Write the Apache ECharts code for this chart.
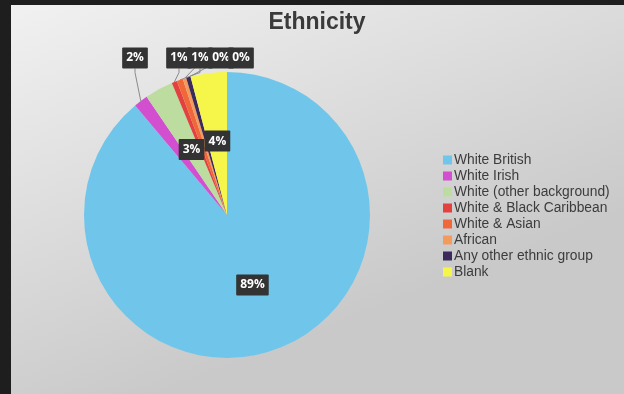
<!DOCTYPE html>
<html>
<head>
<meta charset="utf-8">
<script src="https://cdn.jsdelivr.net/npm/echarts@6/dist/echarts.min.js"></script>
<style>
  html, body { margin: 0; padding: 0; background: #1e1e1e; }
  #chart { width: 624px; height: 394px; }
</style>
</head>
<body>
<div id="chart"></div>
<script>
// Ethnicity breakdown (percent of respondents)
const categories = [
  'White British',
  'White Irish',
  'White (other background)',
  'White & Black Caribbean',
  'White & Asian',
  'African',
  'Any other ethnic group',
  'Blank'
];
const shares = [88.9, 1.6, 3.2, 0.6, 0.7, 0.4, 0.5, 4.1];
const colors = ['#70c6ea', '#d24fd0', '#bddc9f', '#e2413f', '#f0683a', '#f49a5c', '#3b2a5c', '#f6f64a'];

// Slices big enough for an inside label; the rest get callouts along the top
const insideLabels = ['White British', 'White (other background)', 'Blank'];
// Horizontal positions of the top callout boxes
const calloutX = {
  'White Irish': 135,
  'White & Black Caribbean': 179,
  'White & Asian': 200,
  'African': 221,
  'Any other ethnic group': 241
};

const chart = echarts.init(document.getElementById('chart'));

const data = categories.map((name, i) => {
  const inside = insideLabels.includes(name);
  return {
    name: name,
    value: shares[i],
    itemStyle: { color: colors[i] },
    label: inside
      ? { position: 'inside' }
      : { position: 'outside' },
    labelLine: { show: !inside }
  };
});

chart.setOption({
  animation: false,
  graphic: [{
    type: 'rect',
    z: -10,
    shape: { x: 11, y: 5, width: 613, height: 389 },
    style: {
      fill: new echarts.graphic.LinearGradient(0, 0, 0.25, 1, [
        { offset: 0, color: '#f1f1f1' },
        { offset: 1, color: '#c9c9c9' }
      ])
    }
  }],
  title: {
    text: 'Ethnicity',
    left: 312,
    textAlign: 'center',
    top: 6,
    textStyle: {
      fontFamily: 'Liberation Sans, Arial, sans-serif',
      fontSize: 23,
      fontWeight: 'bold',
      color: '#3a3a3a'
    }
  },
  legend: {
    orient: 'vertical',
    left: 443,
    top: 153,
    padding: 0,
    itemWidth: 9,
    itemHeight: 9,
    itemGap: 2,
    icon: 'rect',
    data: categories,
    textStyle: {
      fontFamily: 'Liberation Sans, Arial, sans-serif',
      fontSize: 13.8,
      lineHeight: 14,
      color: '#3c3c3c',
      padding: [0, 0, 0, -3]
    }
  },
  series: [{
    type: 'pie',
    center: [227, 215],
    radius: 143,
    startAngle: 90,
    clockwise: true,
    percentPrecision: 0,
    avoidLabelOverlap: false,
    emphasis: { disabled: true },
    data: data,
    label: {
      formatter: '{d}%',
      color: '#ffffff',
      fontFamily: 'Open Sans, Liberation Sans, sans-serif',
      fontWeight: 'bold',
      fontSize: 12,
      backgroundColor: '#333333',
      padding: [5, 4, 4, 4],
      borderRadius: 1
    },
    labelLine: {
      length: 10,
      length2: 4,
      lineStyle: { color: '#8a8a8a', width: 1 }
    },
    labelLayout: function (params) {
      const name = categories[params.dataIndex];
      if (calloutX[name] === undefined) return {};
      return {
        x: calloutX[name],
        y: 58,
        align: 'center',
        verticalAlign: 'middle'
      };
    }
  }]
});
</script>
</body>
</html>
